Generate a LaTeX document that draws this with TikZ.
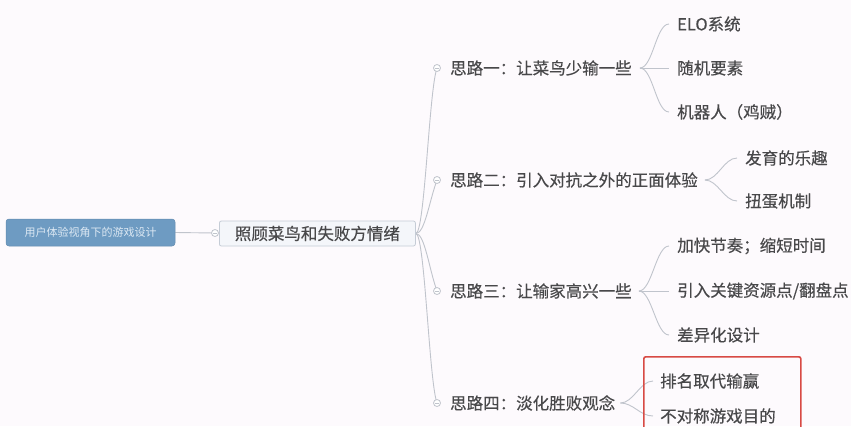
\documentclass[tikz,border=0pt]{standalone}
\usepackage{fontspec}
\setmainfont{Noto Sans CJK SC}
\newfontfamily\heavy{Noto Sans CJK SC}[FakeBold=0.4]
\usetikzlibrary{backgrounds}
\definecolor{bgc}{RGB}{253,250,253}
\definecolor{textgray}{RGB}{72,72,74}
\definecolor{linegray}{RGB}{192,196,204}
\definecolor{rootblue}{RGB}{110,155,194}
\definecolor{roottext}{RGB}{220,232,243}
\definecolor{mainfill}{RGB}{244,246,250}
\definecolor{mainborder}{RGB}{197,204,214}
\definecolor{redbox}{RGB}{216,74,68}
\begin{document}
\begin{tikzpicture}[x=1pt,y=-1pt,
  txt/.style={inner sep=0pt, anchor=west, text=textgray, font=\heavy\fontsize{16.5}{18}\selectfont},
  conn/.style={draw=linegray, line width=0.9pt},
  knob/.style={circle, draw=linegray, fill=white, line width=0.8pt, minimum size=7pt, inner sep=0pt,
    path picture={\draw[linegray, line width=0.6pt] ([xshift=-1.8pt]path picture bounding box.center) -- ([xshift=1.8pt]path picture bounding box.center);}},
  rootbox/.style={rounded corners=3pt, fill=rootblue, draw=rootblue!90!black, line width=0.5pt, text=roottext,
    minimum width=169pt, minimum height=27pt, inner sep=0pt, font=\fontsize{11}{12}\selectfont},
  topicbox/.style={rounded corners=2pt, fill=mainfill, draw=mainborder, line width=0.8pt, text=textgray,
    minimum width=196pt, minimum height=25pt, inner sep=0pt, font=\heavy\fontsize{16.5}{18}\selectfont},
  redframe/.style={draw=redbox, line width=1.6pt, rounded corners=2pt}
]
\useasboundingbox (0,0) rectangle (851,426);
\clip (0,0) rectangle (851,426);

% main nodes
\node[rootbox] (root) at (90.5,232.5) {用户体验视角下的游戏设计};
\node[knob] (k0) at (215,233) {};
\node[topicbox, anchor=west] (main) at (219,233.5) {照顾菜鸟和失败方情绪};

% branches
\node[knob] (k1) at (437,68) {};
\node[txt] (b1) at (450,68) {思路一：让菜鸟少输一些};
\node[knob] (k2) at (437,180) {};
\node[txt] (b2) at (450,180) {思路二：引入对抗之外的正面体验};
\node[knob] (k3) at (437,291) {};
\node[txt] (b3) at (450,291) {思路三：让输家高兴一些};
\node[knob] (k4) at (437,403) {};
\node[txt] (b4) at (450,403) {思路四：淡化胜败观念};

% leaves
\node[txt] (l11) at (677,24) {ELO系统};
\node[txt] (l12) at (677,68) {随机要素};
\node[txt] (l13) at (677,112) {机器人（鸡贼）};
\node[txt] (l21) at (745,158) {发育的乐趣};
\node[txt] (l22) at (745,201) {扭蛋机制};
\node[txt] (l31) at (677,246) {加快节奏；缩短时间};
\node[txt] (l32) at (677,291) {引入关键资源点/翻盘点};
\node[txt] (l33) at (677,335) {差异化设计};
\node[txt] (l41) at (660,381) {排名取代输赢};
\node[txt] (l42) at (660,416) {不对称游戏目的};

% red frame
\node[redframe, anchor=north west, minimum width=157pt, minimum height=90pt, inner sep=0pt] (frame) at (643,356) {};

\begin{scope}[on background layer]
\fill[bgc] (0,0) rectangle (851,426);
\draw[conn] (root.east) -- (k0.center);
\draw[conn] (main.east) .. controls +(9,0) and +(-8,22) .. (k1.center);
\draw[conn] (main.east) .. controls +(9,0) and +(-8,22) .. (k2.center);
\draw[conn] (main.east) .. controls +(9,0) and +(-8,-22) .. (k3.center);
\draw[conn] (main.east) .. controls +(9,0) and +(-8,-22) .. (k4.center);

\coordinate (s1) at ([xshift=8pt]b1.east);
\coordinate (s2) at ([xshift=7pt]b2.east);
\coordinate (s3) at ([xshift=7pt]b3.east);
\coordinate (s4) at ([xshift=5pt]b4.east);
\draw[conn] (s1) .. controls +(13,0) and +(-13,0) .. ([xshift=-8pt]l11.west);
\draw[conn] (s1) -- ([xshift=-8pt]l12.west);
\draw[conn] (s1) .. controls +(13,0) and +(-13,0) .. ([xshift=-8pt]l13.west);
\draw[conn] (s2) .. controls +(13,0) and +(-13,0) .. ([xshift=-8pt]l21.west);
\draw[conn] (s2) .. controls +(13,0) and +(-13,0) .. ([xshift=-8pt]l22.west);
\draw[conn] (s3) .. controls +(13,0) and +(-13,0) .. ([xshift=-8pt]l31.west);
\draw[conn] (s3) -- ([xshift=-8pt]l32.west);
\draw[conn] (s3) .. controls +(13,0) and +(-13,0) .. ([xshift=-8pt]l33.west);
\draw[conn] (s4) .. controls +(13,0) and +(-13,0) .. ([xshift=-7pt]l41.west);
\draw[conn] (s4) .. controls +(13,0) and +(-13,0) .. ([xshift=-7pt]l42.west);
\end{scope}
\end{tikzpicture}
\end{document}
